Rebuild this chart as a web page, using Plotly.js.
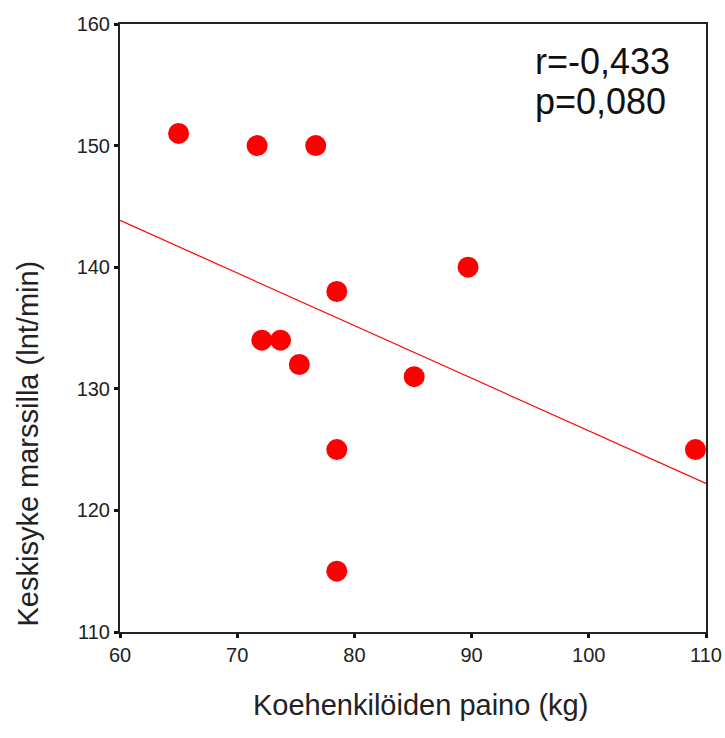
<!DOCTYPE html>
<html>
<head>
<meta charset="utf-8">
<script src="https://cdn.plot.ly/plotly-3.0.1.min.js"></script>
<style>html,body{margin:0;padding:0;background:#fff;}#chart{width:725px;height:738px;}</style>
</head>
<body>
<div id="chart"></div>
<script>
// Data
const weightKg = [65.0, 71.7, 76.7, 89.7, 78.5, 72.1, 73.7, 75.3, 85.1, 78.5, 109.1, 78.5];
const heartRate = [151, 150, 150, 140, 138, 134, 134, 132, 131, 125, 125, 115];
const xTicks = [60, 70, 80, 90, 100, 110];
const yTicks = [110, 120, 130, 140, 150, 160];
const statLines = ["r=-0,433", "p=0,080"];
const xTitle = "Koehenkilöiden paino (kg)";
const yTitle = "Keskisyke marssilla (lnt/min)";

// Least-squares fit line computed from the data
const n = weightKg.length;
const mx = weightKg.reduce((a, b) => a + b, 0) / n;
const my = heartRate.reduce((a, b) => a + b, 0) / n;
let sxy = 0, sxx = 0;
for (let i = 0; i < n; i++) { sxy += (weightKg[i] - mx) * (heartRate[i] - my); sxx += (weightKg[i] - mx) ** 2; }
const slope = sxy / sxx;
const fitX = [xTicks[0], xTicks[xTicks.length - 1]];
const fitY = fitX.map(x => my + slope * (x - mx));

const font = "Liberation Sans, Arial, sans-serif";

const traces = [
  { x: fitX, y: fitY, type: "scatter", mode: "lines", line: { color: "#ff0000", width: 1.2 }, hoverinfo: "skip" },
  { x: weightKg, y: heartRate, type: "scatter", mode: "markers", marker: { color: "#ff0000", size: 21, line: { width: 0 } } }
];

const axisCommon = {
  showgrid: false, zeroline: false, showline: true, mirror: true,
  linecolor: "#222", linewidth: 2, ticks: "outside", ticklen: 4, tickwidth: 3, tickcolor: "#111",
  tickfont: { family: font, size: 20, color: "#222" }
};

const layout = {
  width: 725, height: 738,
  margin: { l: 120, r: 19, t: 24, b: 106 },
  paper_bgcolor: "#fff", plot_bgcolor: "#fff",
  showlegend: false,
  xaxis: Object.assign({}, axisCommon, { range: [60, 110], tickvals: xTicks, ticktext: xTicks.map(String) }),
  yaxis: Object.assign({}, axisCommon, { range: [110, 160], tickvals: yTicks, ticktext: yTicks.map(String) }),
  annotations: [
    { text: statLines[0], xref: "paper", yref: "paper", x: 0.705, y: 0.939, xanchor: "left", yanchor: "middle", showarrow: false, font: { family: font, size: 36, color: "#111" } },
    { text: statLines[1], xref: "paper", yref: "paper", x: 0.705, y: 0.872, xanchor: "left", yanchor: "middle", showarrow: false, font: { family: font, size: 36, color: "#111" } },
    { text: xTitle, xref: "paper", yref: "paper", x: 0.513, y: -0.12, xanchor: "center", yanchor: "middle", showarrow: false, font: { family: font, size: 29, color: "#222" } },
    { text: yTitle, xref: "paper", yref: "paper", x: -0.157, y: 0.31, xanchor: "center", yanchor: "middle", textangle: -90, showarrow: false, font: { family: font, size: 29, color: "#222" } }
  ]
};

Plotly.newPlot("chart", traces, layout, { displayModeBar: false, staticPlot: true });
</script>
</body>
</html>
